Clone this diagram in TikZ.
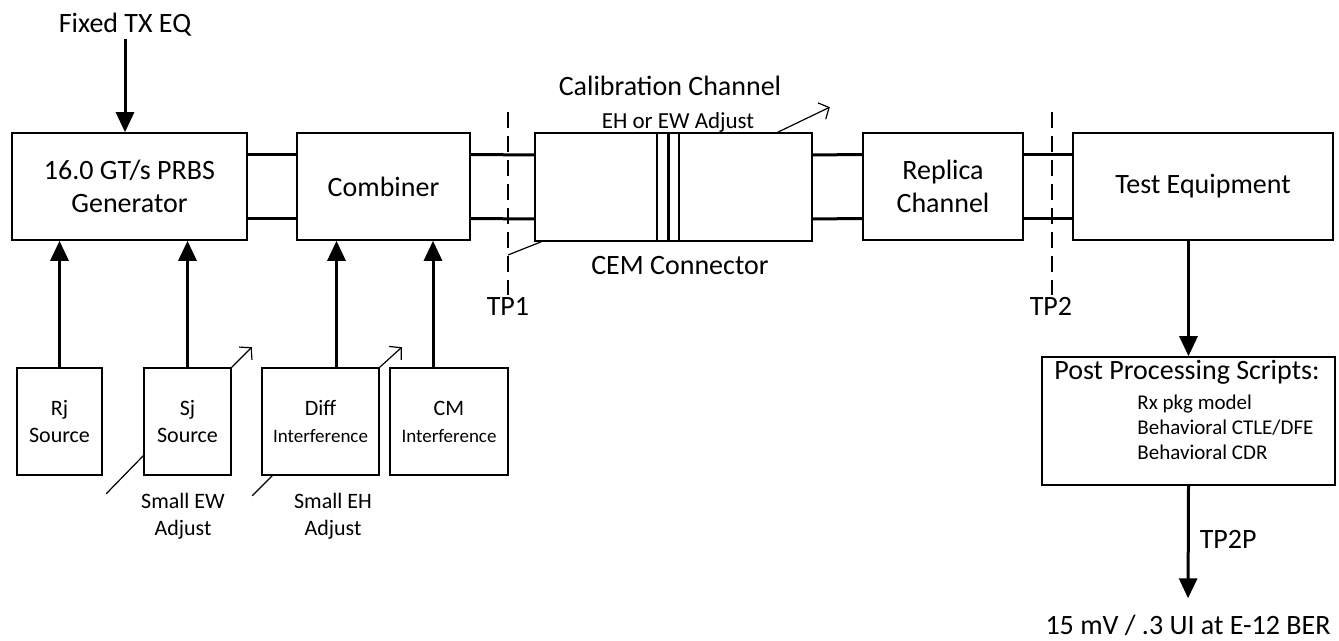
\documentclass[tikz,border=0pt]{standalone}
\usepackage{fontspec}
\setmainfont{Carlito}
\usetikzlibrary{positioning,arrows.meta,calc}

\begin{document}
\begin{tikzpicture}[x=0.5pt,y=-0.5pt,
  blk/.style={rectangle,draw,line width=0.8pt,inner sep=2pt,align=center,minimum height=53.5pt,font=\fontsize{14}{16.5}\selectfont},
  srcbox/.style={rectangle,draw,line width=0.8pt,inner sep=1pt,align=center,minimum height=53.5pt,font=\fontsize{11}{13.5}\selectfont},
  pair/.style={line width=1.5pt},
  sig/.style={-{Triangle[length=10pt,width=9pt]},line width=1.5pt},
  adj/.style={-{Straight Barb[length=4pt,width=9pt]},line width=0.6pt},
  probe/.style={line width=0.6pt,dash pattern=on 8pt off 4pt},
  lab/.style={font=\fontsize{14}{16.5}\selectfont,inner sep=1pt},
  note/.style={font=\fontsize{11}{13.5}\selectfont,align=center,inner sep=1pt},
]
\useasboundingbox (0,0) rectangle (1339,641);

% === MAIN SIGNAL PATH ===
\node[blk,minimum width=117.5pt] (gen) at (129.5,186.5) {16.0 GT/s PRBS\\Generator};
\node[blk,minimum width=86.5pt]  (comb) at (383.5,186.5) {Combiner};
\node[blk,minimum width=138.5pt,minimum height=54pt] (cal) at (673.5,187) {};
\node[blk,minimum width=80pt]    (rep) at (943,186.5) {Replica\\Channel};
\node[blk,minimum width=130pt]   (te) at (1203,186.5) {Test Equipment};

% CEM connector in the middle of the calibration channel
\node[rectangle,draw,line width=0.6pt,minimum width=11pt,minimum height=54pt,inner sep=0pt] (cem) at (668,187) {};
\draw[line width=1.5pt] (cem.north) -- (cem.south);

\draw[pair] ($(gen.east)+(0,-32)$) -- ($(comb.west)+(0,-32)$);
\draw[pair] ($(gen.east)+(0,32)$)  -- ($(comb.west)+(0,32)$);
\draw[pair] ($(comb.east)+(0,-32)$) -- ($(cal.west)+(0,-32)$);
\draw[pair] ($(comb.east)+(0,32)$)  -- ($(cal.west)+(0,32)$);
\draw[pair] ($(cal.east)+(0,-32)$) -- ($(rep.west)+(0,-32)$);
\draw[pair] ($(cal.east)+(0,32)$)  -- ($(rep.west)+(0,32)$);
\draw[pair] ($(rep.east)+(0,-32)$) -- ($(te.west)+(0,-32)$);
\draw[pair] ($(rep.east)+(0,32)$)  -- ($(te.west)+(0,32)$);

% === TX EQ INPUT ===
\node[lab] (txeq) at (125,25) {Fixed TX EQ};
\draw[sig] (txeq.south) -- (txeq.south |- gen.north);

% === CALIBRATION CHANNEL LABELS ===
\node[lab] (calt) at (670,86) {Calibration Channel};
\node[font=\fontsize{11.5}{13.5}\selectfont,inner sep=1pt] (ehew) at (678,122) {EH or EW Adjust};
\node[lab] (cemt) at (680,266) {CEM Connector};
\draw[adj] ($(cal.north east)+(-35,0)$) -- ++(52,-25);

% === TEST POINTS ===
\node[lab] (tp1) at (508,306) {TP1};
\coordinate (tp1top) at (508,112);
\draw[probe] (tp1top) -- (tp1top |- tp1.north);
\draw[line width=0.6pt] ($(cal.south west)+(7,0)$) -- (tp1top |- 0,255);

\node[lab] (tp2) at (1051,306) {TP2};
\coordinate (tp2top) at (1052,112);
\draw[probe] (tp2top) -- (tp2top |- tp2.north);

% === IMPAIRMENT SOURCES ===
\node[srcbox,minimum width=42.5pt] (rj) at (59.5,421.5) {Rj\\Source};
\node[srcbox,minimum width=43.5pt] (sj) at (187.5,421.5) {Sj\\Source};
\node[srcbox,minimum width=58.5pt] (diff) at (320.5,421.5) {Diff\\{\fontsize{9.5}{11}\selectfont Interference}};
\node[srcbox,minimum width=59pt]   (cm) at (449,421.5) {CM\\{\fontsize{9.5}{11}\selectfont Interference}};

\draw[sig] (rj.north) -- (rj.north |- gen.south);
\draw[sig] (sj.north) -- (sj.north |- gen.south);
\coordinate (dtap) at ($(diff.north)+(16,0)$);
\coordinate (ctap) at ($(cm.north)+(-16,0)$);
\draw[sig] (dtap) -- (dtap |- comb.south);
\draw[sig] (ctap) -- (ctap |- comb.south);

% adjust knobs
\draw[line width=0.6pt] ($(sj.south west)+(0,-20)$) -- ++(-37,38);
\draw[adj] (sj.north east) -- ++(20,-20);
\draw[line width=0.6pt] ($(diff.south west)+(11,0)$) -- ++(-20,20);
\draw[adj] (diff.north east) -- ++(22,-20);

\node[note] (ewadj) at (183,516) {Small EW\\Adjust};
\node[note] (ehadj) at (333,516) {Small EH\\Adjust};

% === POST PROCESSING ===
\node[rectangle,draw,line width=0.8pt,minimum width=146.5pt,minimum height=64pt] (post) at (1188.5,421) {};
\node[lab] (postt) at (1187,372) {Post Processing Scripts:};
\node[font=\fontsize{10.5}{12.5}\selectfont,align=left,anchor=west,inner sep=0pt] (postl) at (1137,427) {Rx pkg model\\Behavioral CTLE/DFE\\Behavioral CDR};

\draw[sig] (te.south -| post.north) -- (post.north);

\node[lab] (ber) at (1188,625) {15 mV / .3 UI at E-12 BER};
\draw[sig,shorten >=7pt] (post.south) -- node[lab,right=4pt,pos=0.42] (tp2p) {TP2P} (ber.north);

\end{tikzpicture}
\end{document}
